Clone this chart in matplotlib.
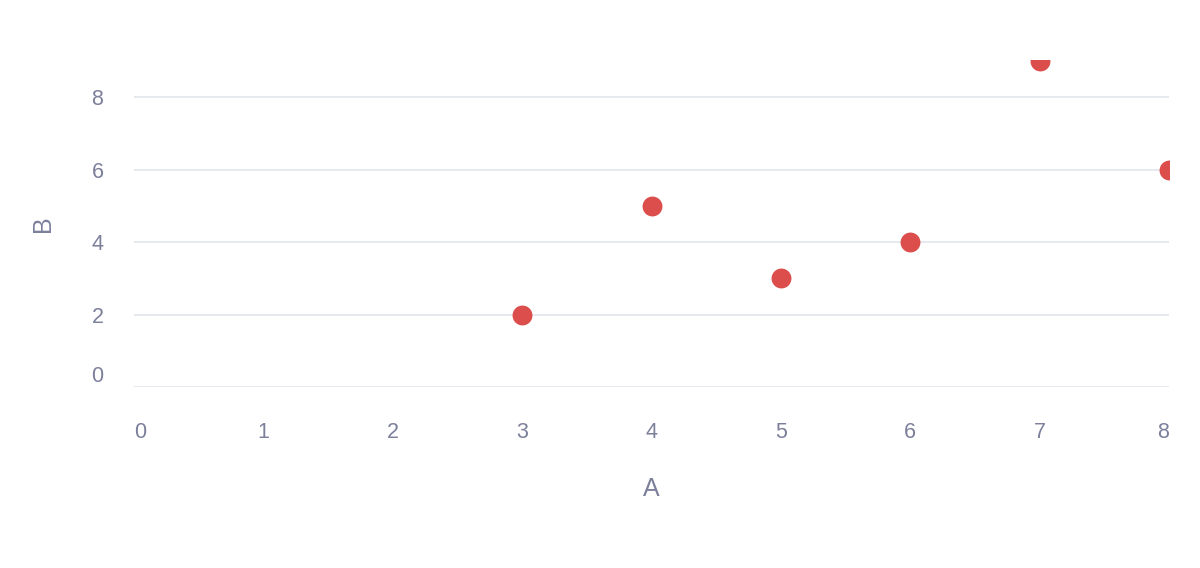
import matplotlib
matplotlib.use("Agg")
import matplotlib.pyplot as plt

# data
a_vals = [3, 4, 5, 6, 7, 8]
b_vals = [2, 5, 3, 4, 9, 6]
x_ticks = [0, 1, 2, 3, 4, 5, 6, 7, 8]
y_ticks = [0, 2, 4, 6, 8]

text_col = "#7c809b"
grid_col = "#e4e7ee"
dot_col = "#db4e4c"

plt.rcParams['font.family'] = ['Liberation Sans', 'DejaVu Sans']

fig = plt.figure(figsize=(12, 5.68), dpi=100)
ax = fig.add_axes([134/1200, 1 - 387/568, (1169 - 134)/1200, (387 - 60)/568])

ax.scatter(a_vals, b_vals, s=205, color=dot_col, linewidths=0, zorder=3)

ax.set_xlim(0, 8)
ax.set_ylim(0, 9.03)
ax.set_xticks(x_ticks)
ax.set_yticks(y_ticks)
ax.set_xticklabels([str(t) for t in x_ticks])
ax.set_yticklabels([str(t) for t in y_ticks])

ax.grid(axis="y", color=grid_col, linewidth=1.3)
ax.set_axisbelow(True)
for s in ax.spines.values():
    s.set_visible(False)

ax.tick_params(axis="x", length=0, pad=25, labelsize=15.5, labelcolor=text_col)
ax.tick_params(axis="y", length=0, pad=22, labelsize=15.5, labelcolor=text_col)

# plotly-style nudge of the edge labels
xl = ax.get_xticklabels()
xl[0].set_horizontalalignment("left")
xl[-1].set_horizontalalignment("right")
yl = ax.get_yticklabels()
yl[0].set_verticalalignment("bottom")

ax.set_xlabel("A", fontsize=18, color=text_col, labelpad=25)
ax.set_ylabel("B", fontsize=18, color=text_col, labelpad=26)

fig.savefig("out.png", dpi=100, facecolor="white")
